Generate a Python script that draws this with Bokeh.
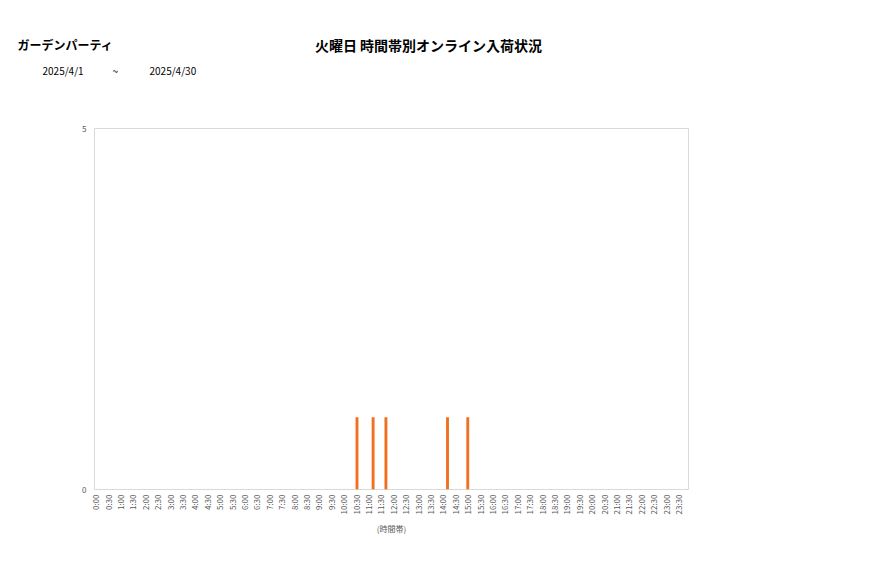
from bokeh.plotting import figure
from bokeh.models import FixedTicker, Range1d
from bokeh.layouts import column, row
from bokeh.core.properties import value
from bokeh.embed import file_html
from bokeh.resources import INLINE
import math

# data
times = ["10:32", "11:11", "11:42", "14:11", "15:00"]
counts = [1, 1, 1, 1, 1]
tick_labels = [f"{h}:{m:02d}" for h in range(24) for m in (0, 30)]
shop_name = "ガーデンパーティ"
chart_title = "火曜日 時間帯別オンライン入荷状況"
date_from, date_sep, date_to = "2025/4/1", "~", "2025/4/30"

def to_min(t):
    h, m = t.split(":")
    return int(h) * 60 + int(m)

xs = [to_min(t) for t in times]
tick_pos = [to_min(t) for t in tick_labels]

W = 877
HH = 100
H = 578 - HH
FL, FT, FR, FB = 94, 128 - HH, 688, 489 - HH

# header figure
hdr = figure(width=W, height=HH, output_backend="svg", toolbar_location=None,
             x_range=Range1d(0, W), y_range=Range1d(HH, 0))
hdr.axis.visible = False
hdr.grid.visible = False
hdr.outline_line_color = None
hdr.min_border = 0
hdr.min_border_left = hdr.min_border_right = hdr.min_border_top = hdr.min_border_bottom = 0
hdr.background_fill_color = None
hdr.border_fill_color = None

hdr.text(x=[17], y=[44], text=[shop_name], text_font=value("Noto Sans CJK JP"),
         text_font_size="12px", text_font_style="bold", text_color="#000000",
         text_align="left", text_baseline="middle")
hdr.text(x=[428], y=[44], text=[chart_title], text_font=value("Noto Sans CJK JP"),
         text_font_size="14px", text_font_style="bold", text_color="#000000",
         text_align="center", text_baseline="middle")
hdr.text(x=[42, 112, 149], y=[70, 70, 70], text=[date_from, date_sep, date_to],
         text_font=value("Noto Sans CJK JP"), text_font_size="10px", text_color="#000000",
         text_align="left", text_baseline="middle")

p = figure(width=W, height=H, output_backend="svg", toolbar_location=None,
           x_range=Range1d(-3, 1434), y_range=Range1d(0, 5))
p.min_border_left = FL
p.min_border_top = FT
p.min_border_right = W - FR
p.min_border_bottom = H - FB

p.vbar(x=xs, top=counts, width=7, bottom=0, color="#f07020", line_color=None)

p.xgrid.visible = False
p.ygrid.visible = False
p.outline_line_color = "#d9d9d9"

p.xaxis.ticker = FixedTicker(ticks=tick_pos)
p.xaxis.major_label_overrides = {pos: lab for pos, lab in zip(tick_pos, tick_labels)}
p.xaxis.major_label_orientation = math.pi / 2
p.yaxis.ticker = FixedTicker(ticks=[0, 5])
for ax in (p.xaxis[0], p.yaxis[0]):
    ax.axis_line_color = None
    ax.major_tick_line_color = None
    ax.minor_tick_line_color = None
    ax.major_tick_out = 0
    ax.major_tick_in = 0
    ax.minor_tick_out = 0
    ax.minor_tick_in = 0
    ax.major_label_text_font = "Noto Sans CJK JP"
    ax.major_label_text_font_size = "8px"
    ax.major_label_text_color = "#595959"
    ax.major_label_standoff = 5
p.yaxis.major_label_standoff = 8
p.xaxis.axis_label = "(時間帯)"
p.xaxis.axis_label_text_font = "Noto Sans CJK JP"
p.xaxis.axis_label_text_font_size = "8px"
p.xaxis.axis_label_text_font_style = "normal"
p.xaxis.axis_label_text_color = "#595959"
p.xaxis.axis_label_standoff = 6

layout = column(row(hdr), p, spacing=0)
open("out.html", "w").write(file_html(layout, INLINE))
